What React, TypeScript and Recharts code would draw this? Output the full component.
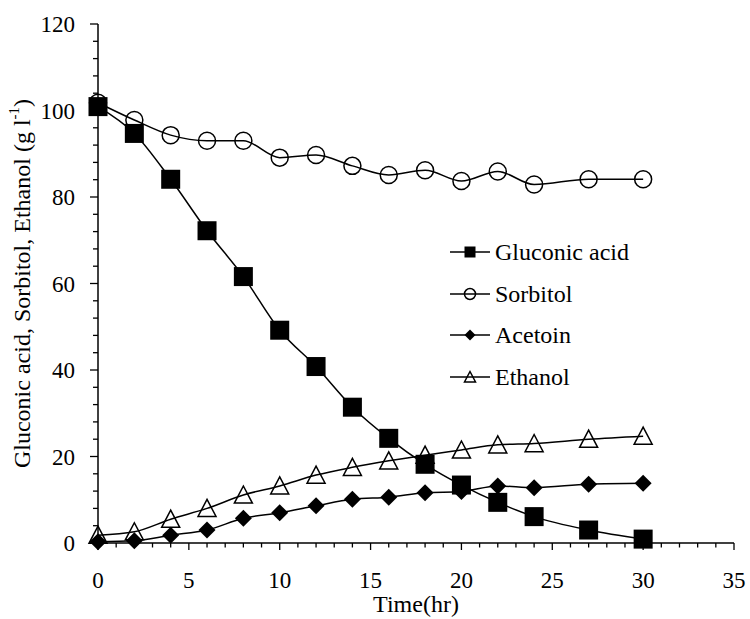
import { LineChart, Line, XAxis, YAxis, Legend } from "recharts";

const time = [0, 2, 4, 6, 8, 10, 12, 14, 16, 18, 20, 22, 24, 27, 30];
const gluconic = [100.9, 94.7, 84.1, 72.2, 61.6, 49.2, 40.8, 31.4, 24.2, 18.2, 13.4, 9.4, 6.1, 3.0, 0.9];
const sorbitol = [101.8, 97.8, 94.3, 93.0, 93.0, 89.1, 89.7, 87.2, 85.1, 86.2, 83.7, 85.9, 82.9, 84.1, 84.1];
const acetoin = [0.3, 0.5, 1.8, 3.0, 5.7, 7.0, 8.6, 10.1, 10.6, 11.6, 11.9, 13.2, 12.8, 13.6, 13.8];
const ethanol = [1.8, 2.6, 5.5, 8.0, 11.1, 13.2, 15.7, 17.5, 19.0, 20.3, 21.5, 22.7, 23.0, 24.0, 24.7];

// minor ticks every 1 h / 4 g, labelled ones every 5 h / 20 g
const xTicks = Array.from({ length: 36 }, (_, i) => i);
const yTicks = Array.from({ length: 31 }, (_, i) => i * 4);

const FONT = '"Liberation Serif", "Times New Roman", "DejaVu Serif", serif';

type Shape = "square" | "circle" | "diamond" | "triangle";

const series: { key: string; name: string; shape: Shape }[] = [
  { key: "sorbitol", name: "Sorbitol", shape: "circle" },
  { key: "ethanol", name: "Ethanol", shape: "triangle" },
  { key: "acetoin", name: "Acetoin", shape: "diamond" },
  { key: "gluconic", name: "Gluconic acid", shape: "square" },
];
const legendOrder = ["gluconic", "sorbitol", "acetoin", "ethanol"];

const data = time.map((t, i) => ({
  time: t,
  gluconic: gluconic[i],
  sorbitol: sorbitol[i],
  acetoin: acetoin[i],
  ethanol: ethanol[i],
}));

function Marker({ cx, cy, shape, s }: { cx: number; cy: number; shape: Shape; s: number }) {
  const h = s / 2;
  if (shape === "square") return <rect x={cx - h} y={cy - h} width={s} height={s} fill="#000" />;
  if (shape === "circle") return <circle cx={cx} cy={cy} r={h - 0.5} fill="none" stroke="#000" strokeWidth={1.5} />;
  if (shape === "diamond")
    return <polygon points={`${cx},${cy - h} ${cx + h},${cy} ${cx},${cy + h} ${cx - h},${cy}`} fill="#000" />;
  return (
    <polygon
      points={`${cx},${cy - h} ${cx + h},${cy + h * 0.9} ${cx - h},${cy + h * 0.9}`}
      fill="none"
      stroke="#000"
      strokeWidth={1.5}
    />
  );
}

const markerSize: Record<Shape, number> = { square: 19, circle: 18, diamond: 17, triangle: 18 };

function XTick({ x, y, payload }: any) {
  const major = payload.value % 5 === 0;
  return (
    <g>
      <line x1={x} x2={x} y1={y} y2={y + (major ? 7 : 4.5)} stroke="#000" strokeWidth={1.3} />
      {major && (
        <text x={x} y={y + 45} textAnchor="middle" style={{ fontFamily: FONT, fontSize: 23 }} fill="#000">
          {payload.value}
        </text>
      )}
    </g>
  );
}

function YTick({ x, y, payload }: any) {
  const major = payload.value % 20 === 0;
  return (
    <g>
      <line x1={x - (major ? 8 : 5)} x2={x} y1={y} y2={y} stroke="#000" strokeWidth={1.3} />
      {major && (
        <text x={x - 23} y={y} dy="0.35em" textAnchor="end" style={{ fontFamily: FONT, fontSize: 23 }} fill="#000">
          {payload.value}
        </text>
      )}
    </g>
  );
}

function YTitle({ viewBox }: any) {
  const cy = viewBox.y + viewBox.height / 2;
  return (
    <text
      x={22}
      y={cy}
      transform={`rotate(-90, 22, ${cy})`}
      textAnchor="middle"
      dominantBaseline="central"
      style={{ fontFamily: FONT, fontSize: 24 }}
      fill="#000"
    >
      Gluconic acid, Sorbitol, Ethanol (g l
      <tspan fontSize={15} dy={-8}>-1</tspan>
      <tspan dy={8}>)</tspan>
    </text>
  );
}

function XTitle({ viewBox }: any) {
  return (
    <text
      x={viewBox.x + viewBox.width / 2}
      y={612}
      textAnchor="middle"
      style={{ fontFamily: FONT, fontSize: 24 }}
      fill="#000"
    >
      Time(hr)
    </text>
  );
}

function LegendBox() {
  return (
    <div style={{ fontFamily: FONT, fontSize: 24, color: "#000" }}>
      {legendOrder.map((k) => {
        const s = series.find((d) => d.key === k)!;
        return (
          <div key={k} style={{ display: "flex", alignItems: "center", height: 41.7 }}>
            <svg width={44} height={20} style={{ overflow: "visible" }}>
              <line x1={0} x2={40} y1={10} y2={10} stroke="#000" strokeWidth={1.5} />
              <Marker cx={20} cy={10} shape={s.shape} s={s.shape === "circle" ? 12 : 11} />
            </svg>
            <span style={{ marginLeft: 1, lineHeight: 1 }}>{s.name}</span>
          </div>
        );
      })}
    </div>
  );
}

export default function App() {
  return (
    <div style={{ position: "absolute", left: 0, top: 0, width: 750, height: 619, overflow: "hidden" }}>
      <LineChart width={750} height={619} data={data} margin={{ top: 24, right: 16, left: 0, bottom: 0 }}>
        <XAxis
          dataKey="time"
          type="number"
          domain={[0, 35]}
          ticks={xTicks}
          interval={0}
          height={76}
          tickSize={0}
          tickMargin={0}
          tickLine={false}
          tick={<XTick />}
          axisLine={{ stroke: "#000", strokeWidth: 1.5 }}
          label={<XTitle />}
        />
        <YAxis
          type="number"
          domain={[0, 120]}
          ticks={yTicks}
          interval={0}
          width={98}
          tickSize={0}
          tickMargin={0}
          tickLine={false}
          tick={<YTick />}
          axisLine={{ stroke: "#000", strokeWidth: 1.5 }}
          label={<YTitle />}
        />
        <Legend
          layout="vertical"
          align="center"
          verticalAlign="middle"
          content={() => <LegendBox />}
          wrapperStyle={{ left: 450, top: 231, width: 260 }}
        />
        {series.map((s) => (
          <Line
            key={s.key}
            dataKey={s.key}
            name={s.name}
            type="monotone"
            stroke="#000"
            strokeWidth={1.5}
            isAnimationActive={false}
            dot={(p: any) => (
              <Marker key={`${s.key}-${p.index}`} cx={p.cx} cy={p.cy} shape={s.shape} s={markerSize[s.shape]} />
            )}
            activeDot={false}
          />
        ))}
      </LineChart>
    </div>
  );
}
